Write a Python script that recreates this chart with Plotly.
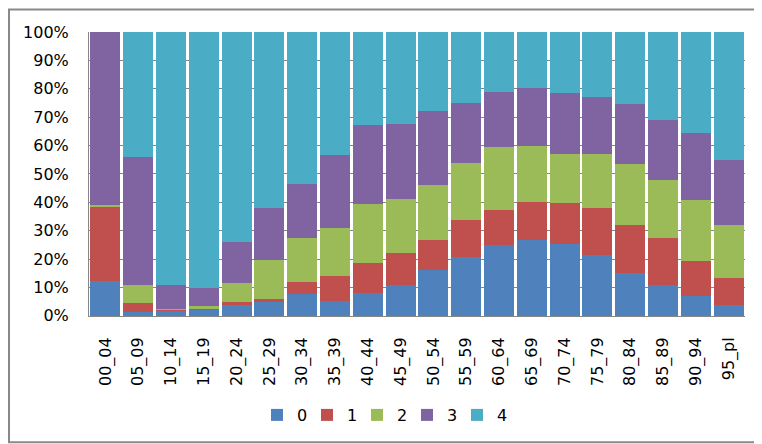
import plotly.graph_objects as go

categories = ["00_04", "05_09", "10_14", "15_19", "20_24", "25_29", "30_34", "35_39",
              "40_44", "45_49", "50_54", "55_59", "60_64", "65_69", "70_74", "75_79",
              "80_84", "85_89", "90_94", "95_pl"]
series_names = ["0", "1", "2", "3", "4"]
s0 = [12.3, 1.4, 2.0, 2.2, 3.9, 4.8, 7.6, 5.3, 8.0, 11.0, 16.3, 20.7, 24.8, 26.9, 25.3, 21.4, 15.2, 11.0, 6.9, 3.9]
s1 = [26.3, 3.2, 0.3, 0.3, 1.0, 1.1, 4.5, 8.6, 10.6, 11.1, 10.4, 13.2, 12.5, 13.2, 14.5, 16.5, 16.9, 16.6, 12.4, 9.5]
s2 = [0.5, 6.2, 0.2, 1.1, 6.6, 13.9, 15.5, 16.9, 20.7, 18.9, 19.3, 20.0, 22.1, 19.7, 17.4, 19.3, 21.3, 20.3, 21.4, 18.7]
s3 = [60.9, 45.2, 8.3, 6.2, 14.5, 18.2, 19.0, 25.9, 28.0, 26.7, 26.2, 21.0, 19.3, 20.3, 21.2, 19.8, 21.1, 21.1, 23.8, 22.8]
s4 = [0.0, 44.0, 89.2, 90.2, 74.0, 62.0, 53.4, 43.3, 32.7, 32.3, 27.8, 25.1, 21.3, 19.9, 21.6, 23.0, 25.5, 31.0, 35.5, 45.1]
y_ticks = [0, 10, 20, 30, 40, 50, 60, 70, 80, 90, 100]
y_tick_labels = ["0%", "10%", "20%", "30%", "40%", "50%", "60%", "70%", "80%", "90%", "100%"]

colors = ["#4F81BD", "#C0504D", "#9BBB59", "#8064A2", "#4BACC6"]
FONT = "DejaVu Sans"

W, H = 762, 444
L, R, T, B = 81, 25, 24, 130
pw, ph = W - L - R, H - T - B

fig = go.Figure()
for name, vals, col in zip(series_names, [s0, s1, s2, s3, s4], colors):
    fig.add_trace(go.Bar(x=categories, y=vals, name=name,
                         marker=dict(color=col, line=dict(width=0))))

def px_x(p):
    return (p - L) / pw

def px_y(p):
    return (T + ph - p) / ph

fig.update_layout(
    width=W, height=H,
    margin=dict(l=L, r=R, t=T, b=B, pad=0),
    barmode="stack", barnorm="percent", bargap=0.09,
    paper_bgcolor="white", plot_bgcolor="white",
    font=dict(family=FONT, size=16, color="black"),
    showlegend=True,
    legend=dict(orientation="h", xref="container", yref="container",
                x=374 / W, xanchor="center", y=1 - 407 / H, yanchor="middle",
                font=dict(family=FONT, size=16, color="black"),
                itemwidth=30, entrywidth=5, traceorder="normal",
                bgcolor="rgba(0,0,0,0)"),
    xaxis=dict(type="category", tickangle=-90, showgrid=False,
               showline=True, linecolor="#868686", linewidth=1,
               ticks="", ticklabelstandoff=14,
               tickfont=dict(family=FONT, size=16)),
    yaxis=dict(range=[0, 100], tickmode="array", tickvals=y_ticks, ticktext=y_tick_labels,
               showgrid=True, gridcolor="#868686", gridwidth=1,
               showline=True, linecolor="#868686", linewidth=1,
               zeroline=False, ticks="", ticklabelstandoff=16,
               tickfont=dict(family=FONT, size=16)),
    shapes=[dict(type="rect", xref="paper", yref="paper", layer="above",
                 x0=px_x(1), x1=px_x(761), y0=px_y(443), y1=px_y(1),
                 line=dict(color="#898989", width=2), fillcolor="rgba(0,0,0,0)")],
)

fig.write_html("out.html")
